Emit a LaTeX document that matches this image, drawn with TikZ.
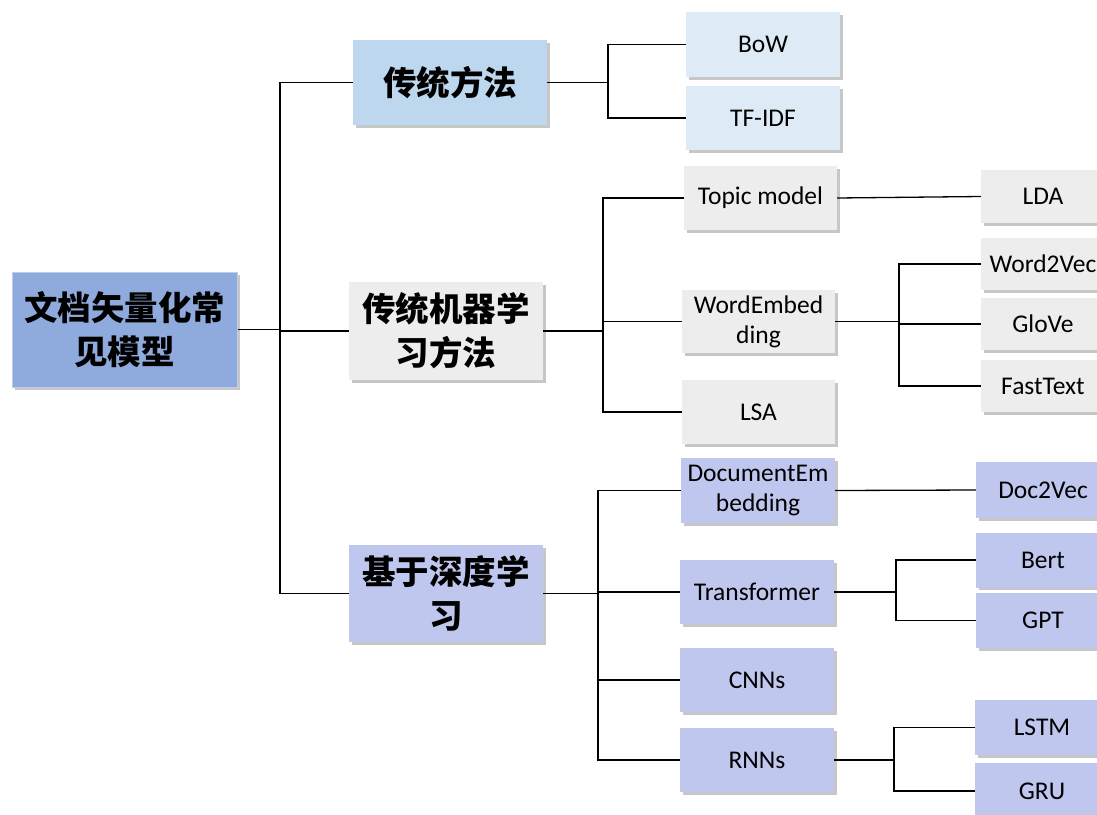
\documentclass[tikz,border=0pt]{standalone}
\usepackage{fontspec}
\setmainfont{Carlito}
\newfontfamily\cjk{Noto Sans CJK SC}
\usetikzlibrary{shadows}
\definecolor{rootc}{HTML}{8FAADC}
\definecolor{tradc}{HTML}{BDD7EE}
\definecolor{tradl}{HTML}{DEEBF7}
\definecolor{grayc}{HTML}{EDEDED}
\definecolor{deepc}{HTML}{BFC7EE}
\tikzset{
  box/.style={rectangle, inner sep=1pt, align=center, text=black,
    drop shadow={shadow xshift=2.5pt, shadow yshift=-2.5pt, fill=black, opacity=0.22}},
  big/.style={box, font=\cjk\bfseries\fontsize{33.5}{44}\selectfont},
  small/.style={box, font=\fontsize{25.5}{30}\selectfont},
  conn/.style={draw=black, line width=1.3pt}
}
\begin{document}
\begin{tikzpicture}[x=1pt,y=-1pt]
\clip (0,0) rectangle (1097,814);
\fill[white] (0,0) rectangle (1097,814);
% level 0
\node[big, fill=rootc, draw=rootc!60!white, line width=1pt, minimum width=225pt, minimum height=115pt] (root) at (124.5,329.5) {文档矢量化常\\见模型};
% level 1
\node[big, fill=tradc, minimum width=194pt, minimum height=85pt] (trad) at (450,82.5) {传统方法};
\node[big, fill=grayc, minimum width=194pt, minimum height=98pt] (ml) at (446,331) {传统机器学\\习方法};
\node[big, fill=deepc, minimum width=194pt, minimum height=97pt] (dl) at (446,593.5) {基于深度学\\习};
% level 2
\node[small, fill=tradl, minimum width=154pt, minimum height=65pt] (bow) at (763,44.5) {BoW};
\node[small, fill=tradl, minimum width=154pt, minimum height=64pt] (tfidf) at (763,118) {TF-IDF};
\node[small, fill=grayc, minimum width=153pt, minimum height=64pt] (topic) at (760.5,198) {Topic model};
\node[small, fill=grayc, minimum width=153pt, minimum height=63pt] (we) at (758.5,321.5) {WordEmbed\\ding};
\node[small, fill=grayc, minimum width=153pt, minimum height=64pt] (lsa) at (758.5,412) {LSA};
\node[small, fill=deepc, minimum width=154pt, minimum height=65pt] (de) at (758,490.5) {DocumentEm\\bedding};
\node[small, fill=deepc, minimum width=154pt, minimum height=64pt] (tr) at (757,592) {Transformer};
\node[small, fill=deepc, minimum width=154pt, minimum height=64pt] (cnn) at (757,680) {CNNs};
\node[small, fill=deepc, minimum width=154pt, minimum height=64pt] (rnn) at (757,760) {RNNs};
% level 3
\node[small, fill=grayc, minimum width=124pt, minimum height=53pt] (lda) at (1043,196.5) {LDA};
\node[small, fill=grayc, minimum width=124pt, minimum height=52pt] (w2v) at (1043,264) {Word2Vec};
\node[small, fill=grayc, minimum width=124pt, minimum height=52pt] (glove) at (1043,324) {GloVe};
\node[small, fill=grayc, minimum width=124pt, minimum height=52pt] (ft) at (1043,386) {FastText};
\node[small, fill=deepc, minimum width=134pt, minimum height=56pt] (d2v) at (1043,490) {Doc2Vec};
\node[small, fill=deepc, minimum width=134pt, minimum height=55pt] (bert) at (1043,560) {Bert};
\node[small, fill=deepc, minimum width=134pt, minimum height=55pt] (gpt) at (1043,620.5) {GPT};
\node[small, fill=deepc, minimum width=134pt, minimum height=55pt] (lstm) at (1042,727.5) {LSTM};
\node[small, fill=deepc, minimum width=134pt, minimum height=56pt] (gru) at (1042,791) {GRU};
% junctions
\coordinate (j0) at (280,329.5);
\coordinate (j1) at (608,82.5);
\coordinate (j2) at (603,331);
\coordinate (j3) at (899,321.5);
\coordinate (j4) at (598,593.5);
\coordinate (j5) at (896,592);
\coordinate (j6) at (894,760);
% connectors
\draw[conn] (root.east) -- (j0);
\draw[conn] (j0) |- (trad.west);
\draw[conn] (j0) |- (ml.west);
\draw[conn] (j0) |- (dl.west);
\draw[conn] (trad.east) -- (j1);
\draw[conn] (j1) |- (bow.west);
\draw[conn] (j1) |- (tfidf.west);
\draw[conn] (ml.east) -- (j2);
\draw[conn] (j2) |- (topic.west);
\draw[conn] (j2) |- (we.west);
\draw[conn] (j2) |- (lsa.west);
\draw[conn] (topic.east) -- (lda.west);
\draw[conn] (we.east) -- (j3);
\draw[conn] (j3) |- (w2v.west);
\draw[conn] (j3) |- (glove.west);
\draw[conn] (j3) |- (ft.west);
\draw[conn] (dl.east) -- (j4);
\draw[conn] (j4) |- (de.west);
\draw[conn] (j4) |- (tr.west);
\draw[conn] (j4) |- (cnn.west);
\draw[conn] (j4) |- (rnn.west);
\draw[conn] (de.east) -- (d2v.west);
\draw[conn] (tr.east) -- (j5);
\draw[conn] (j5) |- (bert.west);
\draw[conn] (j5) |- (gpt.west);
\draw[conn] (rnn.east) -- (j6);
\draw[conn] (j6) |- (lstm.west);
\draw[conn] (j6) |- (gru.west);
\end{tikzpicture}
\end{document}
